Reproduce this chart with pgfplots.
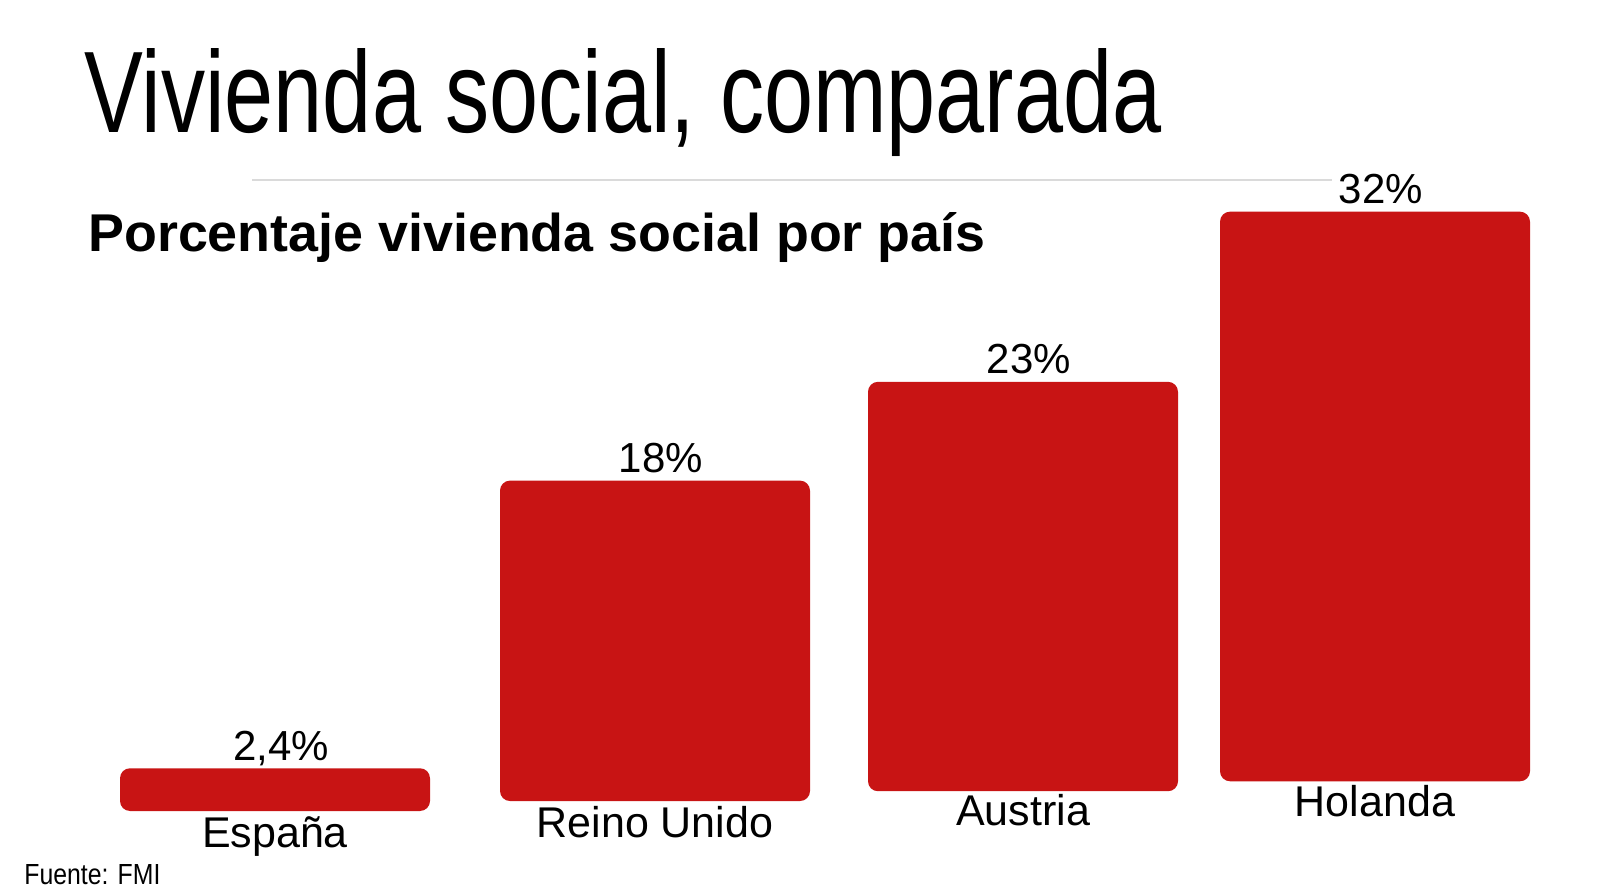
\documentclass[border=0pt]{standalone}
\usepackage{pgfplots}
\pgfplotsset{compat=1.18}
\usepackage{fontspec}
\setmainfont{Liberation Sans}
\usepackage{graphicx}
\definecolor{redM}{RGB}{200,20,20}
\definecolor{rule}{RGB}{218,218,218}
\begin{document}
\begin{tikzpicture}
\path[use as bounding box] (0pt,0pt) rectangle (800pt,447pt);
% title
\node[anchor=base west, inner sep=0pt] at (42pt,380.5pt)
  {\resizebox{538.5pt}{42pt}{\fontsize{58pt}{60pt}\selectfont Vivienda social, comparada}};
\draw[rule, line width=1pt] (126pt,357pt) -- (666pt,357pt);
\node[anchor=base west, inner sep=0pt] at (44pt,321pt)
  {\resizebox{448.5pt}{19.5pt}{\fontsize{27pt}{30pt}\selectfont\bfseries Porcentaje vivienda social por país}};
\node[anchor=base west, inner sep=0pt] at (12pt,5pt)
  {\resizebox{68pt}{10pt}{\fontsize{14pt}{16pt}\selectfont Fuente: FMI}};
\begin{axis}[
  at={(0pt,41.5pt)}, anchor=south west,
  scale only axis, width=800pt, height=356pt,
  xmin=0, xmax=1600, ymin=0, ymax=40,
  axis line style={draw=none}, tick style={draw=none},
  ytick=\empty, clip=false,
  ybar stacked, bar width=155pt,
  xtick=data,
  xticklabels={\raisebox{-15.5pt}{España},\raisebox{-10.5pt}{Reino Unido},\raisebox{-4.5pt}{Austria},Holanda},
  xticklabel style={anchor=base, yshift=-2.5pt, font=\fontsize{21.5pt}{24pt}\selectfont},
  /pgf/number format/assume math mode=true,
  /pgf/number format/use comma,
]
% perspective offset of each bar's base (floor recedes to the right)
\addplot[draw=none, fill=none]
  coordinates {(275,0) (655,0.56) (1023,1.11) (1375,1.67)};
% share of social housing (%)
\addplot[draw=none, fill=redM, rounded corners=5pt]
  coordinates {(275,2.4) (655,18) (1023,23) (1375,32)};
% value labels on top of each bar (thin invisible cap)
\addplot[draw=none, fill=none,
  point meta=explicit,
  nodes near coords={\pgfmathprintnumber{\pgfplotspointmeta}\%},
  every node near coord/.append style={anchor=base, yshift=4pt, xshift=3pt, font=\fontsize{21pt}{24pt}\selectfont}]
  coordinates {(275,0.01) [2.4] (655,0.01) [18] (1023,0.01) [23] (1375,0.01) [32]};
\end{axis}
\end{tikzpicture}
\end{document}
